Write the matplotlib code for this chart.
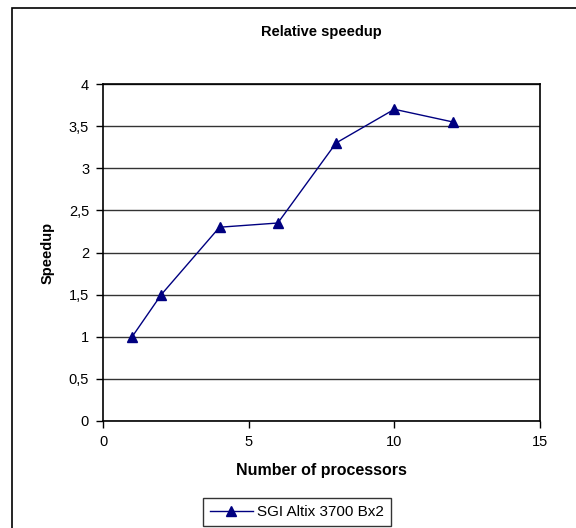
import matplotlib
matplotlib.use("Agg")
import matplotlib.pyplot as plt
from matplotlib.patches import Rectangle
from matplotlib.ticker import FuncFormatter, MultipleLocator

plt.rcParams['font.family'] = ['Liberation Sans', 'DejaVu Sans']

processors = [1, 2, 4, 6, 8, 10, 12]
speedup = [1.0, 1.5, 2.3, 2.35, 3.3, 3.7, 3.55]
series_name = "SGI Altix 3700 Bx2"

fig = plt.figure(figsize=(5.76, 5.28), dpi=100)
W, H = 576, 528

# outer chart frame (runs off the right/bottom edge)
fig.add_artist(Rectangle((12 / W, -0.05), 1.2, 1 - 8 / H + 0.05,
                         transform=fig.transFigure, fill=False,
                         edgecolor='black', linewidth=1.2, clip_on=False))

ax = fig.add_axes([103 / W, 1 - 421 / H, (540 - 103) / W, (421 - 84) / H])
navy = '#000080'
ax.plot(processors, speedup, color=navy, linewidth=1.0, marker='^',
        markersize=7, markerfacecolor=navy, markeredgecolor=navy,
        label=series_name, clip_on=False, zorder=3)

ax.set_xlim(0, 15)
ax.set_ylim(0, 4)
ax.xaxis.set_major_locator(MultipleLocator(5))
ax.yaxis.set_major_locator(MultipleLocator(0.5))
ax.yaxis.set_major_formatter(FuncFormatter(lambda v, p: f"{v:g}".replace('.', ',')))
ax.grid(axis='y', color='#333333', linewidth=1.0)
ax.set_axisbelow(True)
for s in ax.spines.values():
    s.set_linewidth(1.2)
    s.set_color('black')
ax.tick_params(direction='out', length=5, width=1, labelsize=10.5, pad=5)

fig.text((103 + 540) / 2 / W, 1 - 32 / H, "Relative speedup", ha='center',
         va='center', fontsize=10.5, fontweight='bold')
ax.set_xlabel("Number of processors", fontsize=11.5, fontweight='bold', labelpad=10)
ax.set_ylabel("Speedup", fontsize=10.5, fontweight='bold', labelpad=10)

leg = fig.legend(loc='center', bbox_to_anchor=(297 / W, 1 - 512 / H),
                 frameon=True, fancybox=False, fontsize=11, handlelength=2.8,
                 borderpad=0.45, handletextpad=0.3)
leg.get_frame().set_edgecolor('black')
leg.get_frame().set_linewidth(1.0)

fig.savefig("out.png", dpi=100)
